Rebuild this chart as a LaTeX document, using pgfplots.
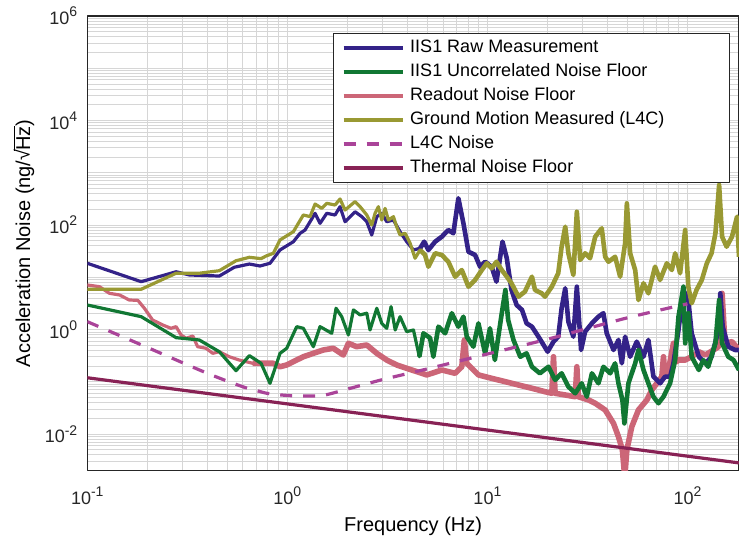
\documentclass[border=0pt]{standalone}
\usepackage{pgfplots}
\pgfplotsset{compat=1.18}
\usepackage{pgfplotstable}
\usepackage{fontspec}
\setmainfont{Liberation Sans}
\definecolor{cRaw}{HTML}{332288}
\definecolor{cUnc}{HTML}{117733}
\definecolor{cRead}{HTML}{CC6677}
\definecolor{cGnd}{HTML}{999933}
\definecolor{cL4C}{HTML}{AA4499}
\definecolor{cTherm}{HTML}{882255}
\newcommand{\sups}[1]{\raisebox{3.9pt}{\fontsize{7}{8}\selectfont #1}}
\newdimen\sqrtraise
\newcommand{\sqrtHz}{\setbox0\hbox{√}\setbox2\hbox{Hz}%
  \sqrtraise=\dimexpr\ht2+1.3pt-\ht0\relax
  \ifdim\sqrtraise<0pt \sqrtraise=0pt\fi
  \raise\sqrtraise\box0\kern-0.6pt\rlap{\rule[\dimexpr\ht2+0.75pt\relax]{\wd2}{0.55pt}}\box2}

\pgfplotstableread{
f v
0.1 18.6
0.186 8.26
0.278 12.8
0.324 11.1
0.457 10.6
0.543 15.6
0.646 18.0
0.730 16.5
0.819 18.6
0.919 33.4
1.072 48.1
1.158 69.7
1.226 80.5
1.299 116
1.376 168
1.457 108
1.574 168
1.732 156
1.834 225
1.943 116
2.18 180
2.355 145
2.495 116
2.642 64.7
2.80 145
2.965 168
3.14 116
3.39 125
3.66 74.8
3.95 48.1
4.27 33.4
4.61 36.0
4.83 48.1
5.07 33.4
5.48 48.1
5.92 60
6.38 80.5
6.76 69.7
7.16 326
7.59 108
8.04 31.0
8.68 26.8
9.19 16.0
9.74 19.9
10.5 16.0
11.1 8.26
11.9 48.1
12.5 23.2
13.2 5.73
14.0 2.96
14.9 2.38
15.7 1.32
16.7 1.14
18.0 0.733
19.1 0.508
20.0 0.378
21.4 0.588
22.6 0.733
23.5 2.56
24.5 6.18
25.4 1.42
26.9 0.733
28.0 6.63
29.4 0.408
30.8 0.914
33.3 1.32
35.9 1.77
38.0 2.06
39.5 0.851
42.7 0.408
45.2 0.634
47.0 0.227
48.8 0.733
51.7 0.303
55.8 0.588
60.3 0.303
63.8 0.634
67.6 0.126
73.0 0.094
77.3 0.126
81.9 0.126
85.1 0.227
90.2 0.984
95.5 5.73
101 3.69
105 0.851
114 0.303
123 0.227
132 0.303
143 0.984
146 4.95
150 1.14
160 0.472
173 0.408
181 0.408
}\rawdata

\pgfplotstableread{
f v
0.1 2.96
0.186 1.77
0.278 0.702
0.363 0.634
0.457 0.378
0.554 0.164
0.646 0.318
0.739 0.227
0.819 0.094
0.919 0.352
0.993 0.440
1.114 1.14
1.202 1.06
1.349 0.472
1.457 1.14
1.667 0.851
1.752 2.56
1.87 1.77
2.02 0.791
2.14 2.38
2.31 1.91
2.495 2.06
2.59 0.984
2.80 2.56
2.965 1.32
3.14 1.06
3.30 2.75
3.46 0.984
3.66 1.77
3.95 0.914
4.27 0.984
4.57 0.303
4.79 0.851
5.17 0.692
5.37 0.303
5.69 1.14
6.15 0.851
6.64 2.06
7.16 1.14
7.59 1.77
7.89 0.733
8.51 0.472
9.02 1.32
9.74 0.352
10.3 1.06
10.9 0.262
11.8 2.06
12.3 5.73
12.7 1.53
13.5 0.634
14.6 0.303
15.7 0.352
16.7 0.195
18.3 0.146
20.2 0.195
21.8 0.109
23.5 0.146
25.4 0.081
27.5 0.0605
29.6 0.094
31.4 0.0521
33.3 0.146
35.9 0.094
38.0 0.195
41.1 0.146
43.5 0.227
45.2 0.094
47.3 0.0451
48.4 0.0161
50.7 0.094
54.8 0.227
56.9 0.408
60.3 0.169
63.8 0.094
67.6 0.0521
71.6 0.039
75.9 0.0521
81.9 0.094
86.8 0.262
90.2 1.77
95.5 6.63
97.4 0.548
101 2.06
105 0.303
114 0.169
120 0.262
127 0.195
138 0.548
144 3.69
149 0.548
160 0.303
170 0.262
181 0.169
}\uncdata

\pgfplotstableread{
f v
0.1 7.15
0.115 6.63
0.129 4.95
0.145 4.60
0.162 3.69
0.179 3.63
0.193 2.56
0.212 1.53
0.238 1.23
0.262 1.06
0.278 1.14
0.294 0.791
0.312 0.682
0.337 0.755
0.356 0.472
0.392 0.440
0.424 0.352
0.457 0.378
0.513 0.303
0.575 0.262
0.671 0.227
0.783 0.227
0.851 0.227
0.919 0.195
0.993 0.211
1.072 0.244
1.202 0.303
1.349 0.352
1.514 0.408
1.698 0.440
1.905 0.327
2.02 0.548
2.22 0.472
2.495 0.508
2.80 0.352
3.14 0.262
3.52 0.211
3.95 0.182
4.44 0.157
4.98 0.136
5.92 0.169
6.90 0.146
7.45 0.195
7.67 0.634
7.89 0.227
9.02 0.136
10.5 0.117
12.3 0.101
14.3 0.0873
16.7 0.0755
19.4 0.065
21.0 0.0605
21.4 0.303
21.8 0.0605
24.5 0.0562
27.5 0.0521
28.0 0.195
28.5 0.0521
32.0 0.0451
34.6 0.039
38.8 0.029
42.7 0.0161
45.2 0.00895
47.3 0.00499
48.6 0.0015
49.8 0.005
52.7 0.0139
56.9 0.029
62.7 0.0451
66.4 0.070
70.3 0.094
74.5 0.126
75.9 0.303
77.3 0.126
80.4 0.169
85.1 0.548
87.8 0.24
90.2 0.262
97.4 0.262
105 0.303
114 0.378
123 0.327
135 0.408
143 0.472
149 4.95
154 0.548
167 0.588
181 0.408
}\readdata

\pgfplotstableread{
f v
0.1 5.92
0.186 5.92
0.278 12.0
0.363 12.0
0.457 13.4
0.554 20.8
0.646 24.2
0.739 22.8
0.783 25.6
0.851 28.9
0.919 51.9
1.072 74.8
1.202 156
1.299 145
1.376 253
1.486 209
1.574 261
1.732 242
1.834 316
1.943 194
2.18 281
2.31 225
2.495 156
2.642 100
2.745 168
2.851 225
2.965 125
3.08 209
3.2 125
3.39 145
3.52 93
3.66 64.7
3.88 69.7
4.11 44.9
4.35 23.2
4.61 33.4
4.88 26.8
5.07 16.0
5.48 28.9
5.92 26.8
6.38 19.9
6.90 10.3
7.45 13.8
8.04 6.63
8.68 8.91
9.38 13.8
9.93 18.6
10.5 14.9
11.1 19.9
11.8 13.8
12.5 10.3
13.2 7.71
14.3 4.27
15.4 5.32
16.7 10.3
17.3 5.73
18.7 4.95
19.4 4.27
21.0 6.63
22.6 12.0
23.5 38.6
24.5 93
25.4 28.9
26.9 11.1
28.0 180
29.1 21.5
30.8 28.9
32.6 23.2
34.6 60
37.3 86.9
38.8 24.8
40.3 19.9
43.5 24.8
46.1 10.3
48.8 44.9
49.8 261
51.7 28.9
54.8 13.8
56.9 3.69
60.3 7.71
63.8 4.95
68.9 16.0
73.0 8.91
78.9 18.6
83.6 13.8
86.8 28.9
91.9 12.0
97.4 80.5
101 6.63
105 3.19
111 5.73
118 8.91
125 18.6
132 28.9
138 69.7
144 585
149 60
157 38.6
167 60
177 145
181 24.8
}\gnddata

\pgfplotstableread{
f v
0.1 1.42
0.2 0.455
0.4 0.145
0.6 0.0805
0.7 0.0685
0.8 0.060
1.0 0.055
1.2 0.0538
1.5 0.055
2 0.073
3 0.111
5 0.177
10 0.342
20 0.656
50 1.68
100 3.12
}\lfcdata

\pgfplotstableread{
f v
0.1 0.12
181 0.00282
}\thermdata

\begin{document}
\begin{tikzpicture}
\begin{axis}[
  xmode=log, ymode=log,
  scale only axis, width=325.85pt, height=227.35pt,
  xmin=0.1, xmax=181, ymin=0.002, ymax=1e6,
  xtick={0.1,1,10,100},
  xticklabels={10\sups{-1},10\sups{0},10\sups{1},10\sups{2}},
  minor xtick={0.2,0.3,0.4,0.5,0.6,0.7,0.8,0.9,2,3,4,5,6,7,8,9,20,30,40,50,60,70,80,90},
  ytick={1e-2,1,1e2,1e4,1e6},
  yticklabels={10\sups{-2},10\sups{0},10\sups{2},10\sups{4},10\sups{6}},
  minor ytick={3e-3,4e-3,5e-3,6e-3,7e-3,8e-3,9e-3,
    2e-2,3e-2,4e-2,5e-2,6e-2,7e-2,8e-2,9e-2,1e-1,
    2e-1,3e-1,4e-1,5e-1,6e-1,7e-1,8e-1,9e-1,
    2,3,4,5,6,7,8,9,10,20,30,40,50,60,70,80,90,
    200,300,400,500,600,700,800,900,1000,
    2e3,3e3,4e3,5e3,6e3,7e3,8e3,9e3,
    2e4,3e4,4e4,5e4,6e4,7e4,8e4,9e4,1e5,
    2e5,3e5,4e5,5e5,6e5,7e5,8e5,9e5},
  grid=both,
  major grid style={draw=black!16, line width=0.5pt},
  minor grid style={draw=black!16, line width=0.5pt},
  axis line style={draw=black!85, line width=0.6pt},
  tick style={draw=none},
  tick label style={font=\fontsize{9}{10}\selectfont, text=black!85},
  xticklabel style={yshift=-4.5pt},
  yticklabel style={xshift=-1.5pt},
  xlabel={Frequency (Hz)},
  ylabel={Acceleration Noise (ng/\sqrtHz)},
  label style={font=\fontsize{10}{12}\selectfont, text=black!85},
  every axis x label/.style={at={(axis description cs:0.5,-0.1232)}, anchor=center},
  every axis y label/.style={at={(axis description cs:-0.097,0.5)}, anchor=center, rotate=90, inner sep=0pt},
  legend style={at={(0.986,0.9626)}, anchor=north east, draw=black!85, line width=0.5pt,
    fill=white, font=\fontsize{9}{10}\selectfont, inner xsep=4.5pt, inner ysep=3pt,
    row sep=3.5pt, column sep=3pt,
    nodes={inner sep=0pt, text height=6.5pt, text depth=2pt}},
  legend cell align=left,
  legend image code/.code={\draw[#1] (0pt,0pt) -- (29.5pt,0pt);},
  line join=round,
]
\addlegendimage{cRaw, line width=1.6pt}
\addlegendentry{IIS1 Raw Measurement}
\addlegendimage{cUnc, line width=1.6pt}
\addlegendentry{IIS1 Uncorrelated Noise Floor}
\addlegendimage{cRead, line width=1.6pt}
\addlegendentry{Readout Noise Floor}
\addlegendimage{cGnd, line width=1.6pt}
\addlegendentry{Ground Motion Measured (L4C)\hspace*{28pt}\mbox{}}
\addlegendimage{cL4C, line width=1.6pt, dash pattern=on 6pt off 5.5pt}
\addlegendentry{L4C Noise}
\addlegendimage{cTherm, line width=1.6pt}
\addlegendentry{Thermal Noise Floor}

\addplot[cRead, line width=1.6pt, forget plot] table {\readdata};
\addplot[cRead, line width=2.8pt, forget plot, restrict x to domain=-0.5:10] table {\readdata};
\addplot[cRaw, line width=1.6pt, forget plot] table {\rawdata};
\addplot[cRaw, line width=2.3pt, forget plot, restrict x to domain=1.5:10] table {\rawdata};
\addplot[cUnc, line width=1.6pt, forget plot] table {\uncdata};
\addplot[cUnc, line width=2.3pt, forget plot, restrict x to domain=1.5:10] table {\uncdata};
\addplot[cGnd, line width=1.6pt, forget plot] table {\gnddata};
\addplot[cGnd, line width=2.3pt, forget plot, restrict x to domain=1.5:10] table {\gnddata};
\addplot[cL4C, line width=1.6pt, dash pattern=on 6pt off 5.5pt, smooth, forget plot] table {\lfcdata};
\addplot[cTherm, line width=1.6pt, forget plot] table {\thermdata};
\coordinate (ll) at (rel axis cs:0,0);
\end{axis}
\pgfresetboundingbox
\path[use as bounding box] ([xshift=-43.65pt,yshift=-35.65pt]ll) rectangle ([xshift=325.85pt,yshift=235.35pt]ll);
\end{tikzpicture}
\end{document}
